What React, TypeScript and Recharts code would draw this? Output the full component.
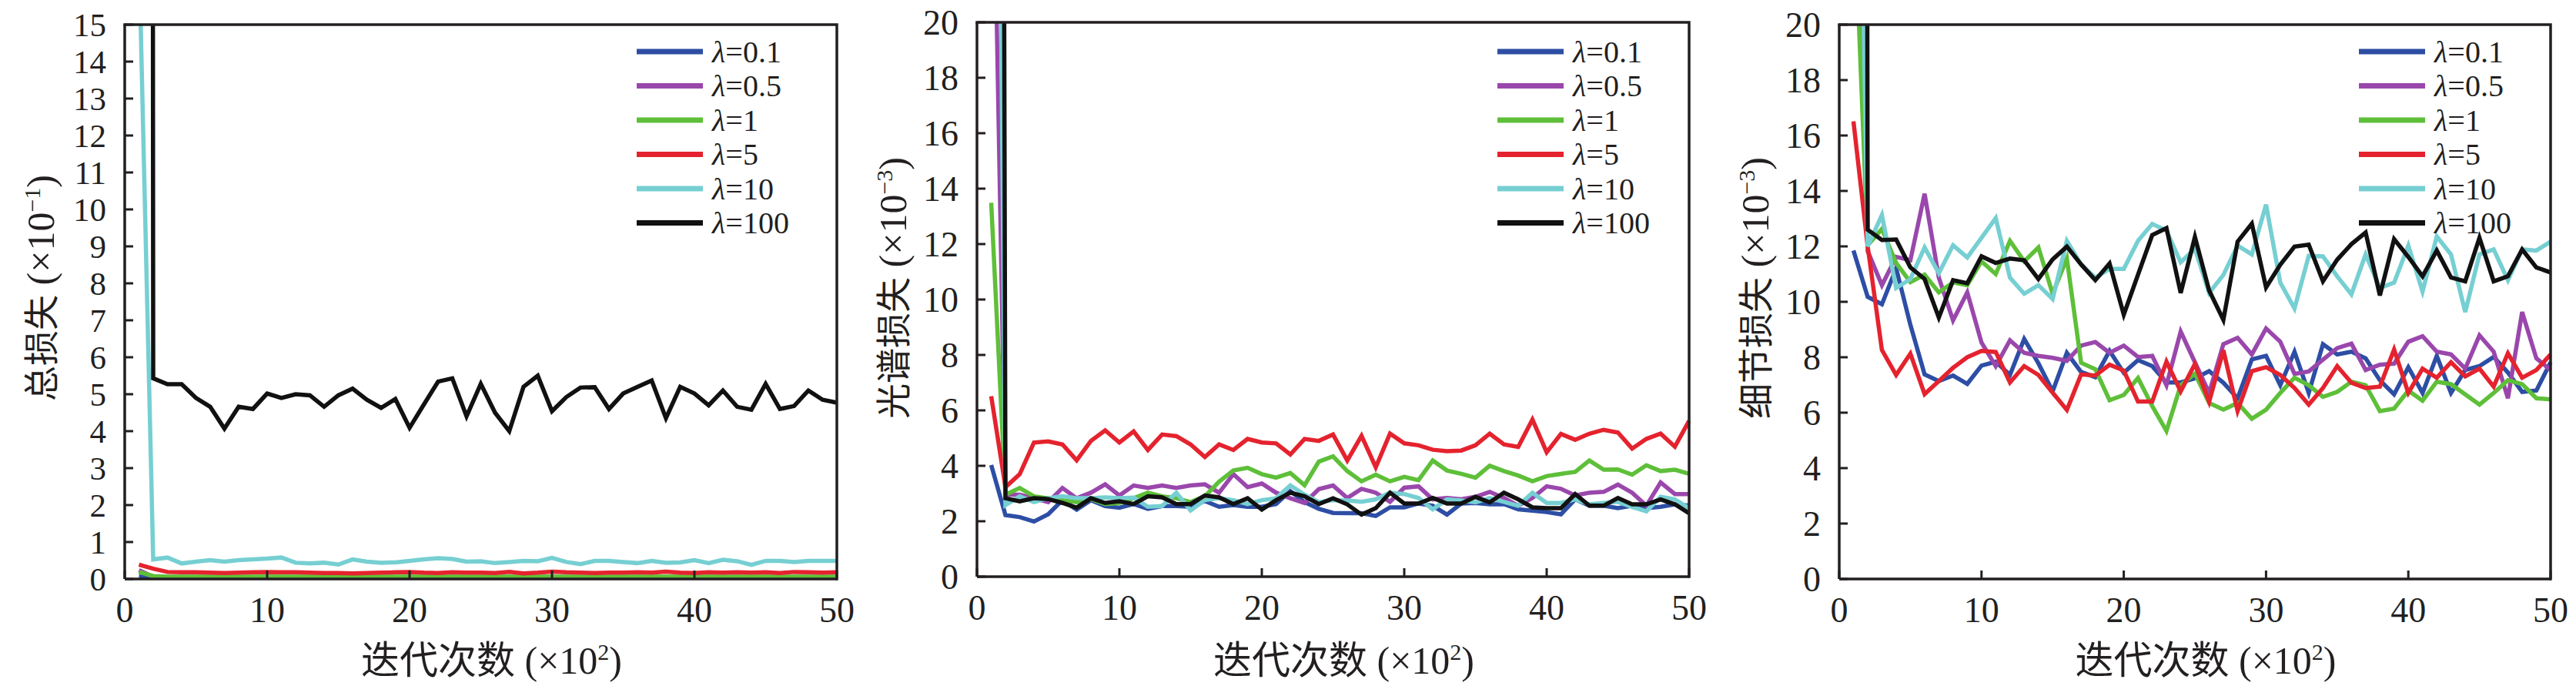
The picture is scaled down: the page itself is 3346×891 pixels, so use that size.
import { LineChart, Line, XAxis, YAxis, Legend } from 'recharts'

// iteration index (×10²)
const steps = [
  1, 2, 3, 4, 5, 6, 7, 8, 9, 10, 11, 12, 13, 14, 15, 16, 17, 18, 19, 20, 21, 22, 23, 24, 25,
  26, 27, 28, 29, 30, 31, 32, 33, 34, 35, 36, 37, 38, 39, 40, 41, 42, 43, 44, 45, 46, 47, 48, 49, 50,
]
const xTicks = [0, 10, 20, 30, 40, 50]
const lambdas = ['0.1', '0.5', '1', '5', '10', '100']

// 总损失 (×10^-1)
const total01 = [
  0.07, 0.03, 0.02, 0.02, 0.02, 0.02, 0.02, 0.02, 0.02, 0.02, 0.02, 0.02, 0.02, 0.02, 0.02, 0.02, 0.02, 0.02, 0.02, 0.02, 0.02, 0.02, 0.02, 0.02, 0.02,
  0.02, 0.02, 0.02, 0.02, 0.02, 0.02, 0.02, 0.02, 0.02, 0.02, 0.02, 0.02, 0.02, 0.02, 0.02, 0.02, 0.02, 0.02, 0.02, 0.02, 0.02, 0.02, 0.02, 0.02, 0.02,
]
const total05 = [
  0.24, 0.06, 0.05, 0.05, 0.05, 0.05, 0.05, 0.05, 0.05, 0.05, 0.05, 0.05, 0.05, 0.05, 0.05, 0.05, 0.05, 0.05, 0.05, 0.05, 0.05, 0.05, 0.05, 0.05, 0.05,
  0.05, 0.05, 0.05, 0.05, 0.05, 0.05, 0.05, 0.05, 0.05, 0.05, 0.05, 0.05, 0.05, 0.05, 0.05, 0.05, 0.05, 0.05, 0.05, 0.05, 0.05, 0.05, 0.05, 0.05, 0.05,
]
const total1 = [
  0.19, 0.08, 0.06, 0.06, 0.06, 0.06, 0.06, 0.06, 0.06, 0.06, 0.06, 0.06, 0.06, 0.06, 0.06, 0.06, 0.06, 0.06, 0.06, 0.06, 0.06, 0.06, 0.06, 0.06, 0.06,
  0.06, 0.06, 0.06, 0.06, 0.06, 0.06, 0.06, 0.06, 0.06, 0.06, 0.06, 0.06, 0.06, 0.06, 0.06, 0.06, 0.06, 0.06, 0.06, 0.06, 0.06, 0.06, 0.06, 0.06, 0.06,
]
const total5 = [
  0.39, 0.28, 0.19, 0.18, 0.18, 0.17, 0.16, 0.17, 0.18, 0.19, 0.18, 0.18, 0.17, 0.16, 0.16, 0.15, 0.16, 0.17, 0.18, 0.19, 0.17, 0.16, 0.18, 0.17, 0.17,
  0.16, 0.19, 0.15, 0.17, 0.2, 0.18, 0.17, 0.16, 0.17, 0.17, 0.18, 0.17, 0.2, 0.17, 0.16, 0.18, 0.17, 0.18, 0.17, 0.18, 0.16, 0.19, 0.18, 0.17, 0.18,
]
const total10 = [
  17, 0.53, 0.58, 0.42, 0.47, 0.51, 0.47, 0.51, 0.53, 0.55, 0.58, 0.44, 0.42, 0.44, 0.39, 0.53, 0.47, 0.44, 0.45, 0.49, 0.53, 0.56, 0.54, 0.47, 0.48,
  0.43, 0.46, 0.49, 0.48, 0.57, 0.46, 0.4, 0.49, 0.49, 0.46, 0.43, 0.49, 0.44, 0.45, 0.51, 0.43, 0.52, 0.48, 0.38, 0.49, 0.49, 0.46, 0.49, 0.49, 0.49,
]
const total100 = [
  500, 5.43, 5.27, 5.27, 4.9, 4.66, 4.07, 4.66, 4.6, 5.02, 4.9, 5.0, 4.97, 4.66, 4.97, 5.15, 4.85, 4.63, 4.87, 4.09, 4.72, 5.34, 5.43, 4.4, 5.28,
  4.5, 4.0, 5.2, 5.5, 4.54, 4.92, 5.18, 5.19, 4.6, 5.02, 5.2, 5.37, 4.35, 5.2, 5.02, 4.7, 5.1, 4.66, 4.58, 5.28, 4.6, 4.68, 5.1, 4.85, 4.77,
]

// 光谱损失 (×10^-3)
const spec01 = [
  4.03, 2.22, 2.15, 1.99, 2.25, 2.76, 2.42, 2.76, 2.55, 2.49, 2.62, 2.45, 2.55, 2.55, 2.52, 2.73, 2.52, 2.58, 2.52, 2.52, 2.62, 3.09, 2.69, 2.45, 2.3,
  2.29, 2.29, 2.19, 2.5, 2.5, 2.64, 2.56, 2.24, 2.64, 2.66, 2.61, 2.62, 2.43, 2.38, 2.33, 2.25, 2.79, 2.56, 2.56, 2.47, 2.56, 2.47, 2.52, 2.61, 2.56,
]
const spec05 = [
  31, 2.96, 2.96, 2.83, 2.69, 3.2, 2.83, 3.03, 3.33, 2.93, 3.29, 3.2, 3.29, 3.2, 3.29, 3.33, 3.03, 3.7, 3.23, 3.36, 3.03, 2.83, 2.66, 3.16, 3.29,
  2.84, 3.17, 3.03, 2.7, 3.21, 3.26, 2.79, 2.84, 2.79, 2.88, 3.06, 2.84, 2.56, 2.84, 3.26, 3.17, 2.93, 3.03, 3.06, 3.32, 3.03, 2.56, 3.4, 2.98, 2.98,
]
const spec1 = [
  13.49, 2.96, 3.2, 2.9, 2.83, 2.76, 2.69, 2.8, 2.62, 2.66, 2.83, 3.03, 2.9, 2.83, 2.69, 2.9, 3.43, 3.83, 3.93, 3.7, 3.57, 3.74, 3.3, 4.15, 4.34,
  3.81, 3.44, 3.68, 3.44, 3.6, 3.48, 4.19, 3.83, 3.71, 3.57, 4.0, 3.81, 3.65, 3.44, 3.63, 3.71, 3.78, 4.19, 3.86, 3.87, 3.68, 4.02, 3.81, 3.86, 3.71,
]
const spec5 = [
  6.51, 3.23, 3.7, 4.84, 4.88, 4.77, 4.2, 4.9, 5.28, 4.84, 5.24, 4.57, 5.13, 5.07, 4.77, 4.32, 4.77, 4.57, 4.97, 4.84, 4.81, 4.41, 4.97, 4.9, 5.13,
  4.19, 5.08, 3.95, 5.16, 4.81, 4.74, 4.58, 4.53, 4.55, 4.74, 5.16, 4.77, 4.68, 5.67, 4.49, 5.15, 4.94, 5.16, 5.3, 5.2, 4.62, 4.97, 5.16, 4.69, 5.62,
]
const spec10 = [
  60, 2.58, 2.9, 2.69, 2.83, 2.9, 2.83, 2.83, 2.86, 2.83, 2.85, 2.52, 2.55, 3.03, 2.39, 2.76, 2.83, 2.76, 2.62, 2.76, 2.83, 3.29, 2.96, 2.69, 2.76,
  2.75, 2.7, 2.79, 3.03, 2.98, 2.84, 2.43, 2.79, 2.75, 2.68, 2.84, 2.7, 2.56, 3.03, 2.66, 2.66, 2.79, 2.61, 2.66, 2.7, 2.52, 2.36, 2.88, 2.79, 2.47,
]
const spec100 = [
  200, 2.83, 2.72, 2.83, 2.8, 2.66, 2.49, 2.83, 2.66, 2.72, 2.62, 2.9, 2.86, 2.62, 2.62, 2.93, 2.86, 2.62, 2.83, 2.42, 2.76, 3.03, 2.9, 2.62, 2.83,
  2.61, 2.24, 2.47, 3.03, 2.64, 2.64, 2.84, 2.64, 2.64, 2.88, 2.68, 3.03, 2.79, 2.5, 2.47, 2.47, 2.98, 2.56, 2.56, 2.84, 2.61, 2.61, 2.79, 2.61, 2.29,
]

// 细节损失 (×10^-3)
const detail01 = [
  11.85, 10.18, 9.91, 11.21, 9.17, 7.38, 7.14, 7.34, 7.04, 7.7, 7.84, 7.36, 8.66, 7.78, 6.77, 8.16, 7.47, 7.28, 8.23, 7.44, 7.9, 7.68, 7.09, 7.09, 7.24,
  7.5, 7.08, 6.52, 7.92, 8.05, 6.99, 8.2, 6.71, 8.47, 8.1, 8.2, 7.96, 7.17, 6.66, 7.64, 6.71, 8.05, 6.71, 7.54, 7.68, 8.01, 7.45, 6.75, 6.8, 7.82,
]
const detail05 = [
  33, 11.83, 10.6, 11.62, 11.5, 13.9, 10.87, 9.33, 10.34, 8.53, 7.68, 8.61, 8.16, 8.05, 7.98, 7.87, 8.42, 8.55, 8.16, 8.42, 8.01, 8.05, 6.99, 8.93, 7.82,
  6.71, 8.47, 8.7, 8.1, 9.04, 8.56, 7.4, 7.49, 7.91, 8.33, 8.49, 7.54, 7.73, 7.77, 8.56, 8.76, 8.2, 8.1, 7.59, 8.79, 8.2, 6.52, 9.63, 7.96, 7.54,
]
const detail1 = [
  25, 12.04, 12.63, 11.4, 10.71, 10.98, 10.34, 10.7, 10.6, 11.46, 11.0, 12.2, 11.46, 11.96, 10.29, 11.56, 7.8, 7.57, 6.45, 6.64, 7.25, 6.24, 5.34, 6.99, 7.41,
  6.35, 6.11, 6.35, 5.78, 6.11, 6.71, 7.26, 6.99, 6.57, 6.75, 7.12, 6.99, 6.06, 6.15, 6.8, 6.43, 7.12, 7.03, 6.66, 6.29, 6.71, 7.17, 7.03, 6.52, 6.48,
]
const detail5 = [
  16.51, 12.0, 8.26, 7.36, 8.13, 6.67, 7.14, 7.62, 8.0, 8.23, 8.19, 7.09, 7.68, 7.36, 6.72, 6.1, 7.38, 7.34, 7.73, 7.52, 6.4, 6.4, 7.84, 6.77, 7.76,
  6.39, 8.25, 6.06, 7.5, 7.64, 7.36, 6.89, 6.29, 6.89, 7.68, 7.08, 6.89, 6.94, 8.28, 6.71, 7.59, 7.26, 7.82, 7.31, 7.59, 6.94, 8.14, 7.26, 7.54, 8.1,
]
const detail10 = [
  40, 12.0, 13.13, 10.5, 10.82, 11.96, 11.03, 12.04, 11.6, 12.31, 13.02, 10.87, 10.29, 10.6, 10.1, 12.2, 11.35, 10.87, 11.19, 11.19, 12.2, 12.81, 12.57, 11.43, 11.91,
  10.32, 10.97, 12.03, 11.71, 13.51, 10.69, 9.76, 11.66, 11.64, 10.92, 10.27, 11.71, 10.5, 10.69, 12.03, 10.37, 12.36, 11.71, 9.63, 11.71, 11.89, 10.78, 11.89, 11.85, 12.17,
]
const detail100 = [
  300, 12.6, 12.23, 12.25, 11.24, 10.82, 9.43, 10.78, 10.67, 11.64, 11.4, 11.56, 11.5, 10.82, 11.53, 11.99, 11.35, 10.78, 11.38, 9.54, 10.98, 12.41, 12.66, 10.32, 12.34,
  10.41, 9.35, 12.17, 12.82, 10.52, 11.34, 11.99, 12.06, 10.74, 11.52, 12.08, 12.5, 10.23, 12.26, 11.62, 10.92, 11.85, 10.88, 10.74, 12.31, 10.74, 10.92, 11.89, 11.24, 11.06,
]

const colors = ['#2d4ea4', '#9a47ac', '#5ebf39', '#e4232e', '#76cfd2', '#111111']
const FONT = "'Liberation Serif', 'Times New Roman', 'Noto Sans CJK SC', serif"
const INK = '#231f20'
const AXIS_W = 3.5

function toRows(series: number[][]) {
  return steps.map((s, i) => {
    const row: Record<string, number> = { step: s }
    series.forEach((arr, k) => {
      row[`s${k}`] = arr[i]
    })
    return row
  })
}

// keep legend rows in λ order (Recharts sorts them by name otherwise)
function LegendBox({ payload }: any) {
  const items = [...(payload || [])].sort(
    (a: any, b: any) => lambdas.indexOf(String(a.value).slice(2)) - lambdas.indexOf(String(b.value).slice(2)),
  )
  return (
    <svg width={290} height={260} style={{ overflow: 'visible', display: 'block' }}>
      {items.map((p: any, i: number) => {
        const cy = 22 + i * 44.5
        return (
          <g key={p.value}>
            <line x1={0} x2={86} y1={cy} y2={cy} stroke={p.color} strokeWidth={7} />
            <text
              x={98}
              y={cy}
              dy="0.34em"
              fontSize={40}
              fontFamily={FONT}
              style={{ fontFamily: FONT }}
              fill={INK}
            >
              <tspan fontStyle="italic">λ</tspan>
              {String(p.value).slice(1)}
            </text>
          </g>
        )
      })}
    </svg>
  )
}

interface PanelProps {
  left: number
  width: number
  plotLeft: number
  plotRight: number
  top: number
  bottom: number
  yMax: number
  yTicks: number[]
  yTickSize: number
  title: string
  exponent: string
  legendLeft: number
  series: number[][]
}

function Panel(p: PanelProps) {
  const data = toRows(p.series)
  const h = 891
  const midX = (p.plotLeft + p.plotRight) / 2 + 14
  const yLabelX = p.plotLeft - 110

  const xTick = (props: any) => (
    <g>
      <line x1={props.x} x2={props.x} y1={p.bottom} y2={p.bottom - 11} stroke={INK} strokeWidth={3} />
      <text
        x={props.x}
        y={p.bottom + 56}
        textAnchor="middle"
        fontSize={46}
        fontFamily={FONT}
        style={{ fontFamily: FONT }}
        fill={INK}
      >
        {props.payload.value}
      </text>
    </g>
  )
  const yTick = (props: any) => (
    <g>
      <line x1={p.plotLeft} x2={p.plotLeft + 11} y1={props.y} y2={props.y} stroke={INK} strokeWidth={3} />
      <text
        x={p.plotLeft - 24}
        y={props.y}
        dy="0.34em"
        textAnchor="end"
        fontSize={p.yTickSize}
        fontFamily={FONT}
        style={{ fontFamily: FONT }}
        fill={INK}
      >
        {props.payload.value}
      </text>
    </g>
  )
  const yTitle = () => (
    <text
      x={yLabelX}
      y={374}
      transform={`rotate(-90, ${yLabelX}, 374)`}
      textAnchor="middle"
      dy="0.35em"
      fontSize={50}
      fontFamily={FONT}
      style={{ fontFamily: FONT }}
      fill={INK}
    >
      <tspan fontSize={46}>{p.title}</tspan> (×10
      <tspan dy={-18} fontSize={30}>
        −{p.exponent}
      </tspan>
      <tspan dy={18}>)</tspan>
    </text>
  )
  const xTitle = () => (
    <text
      x={midX}
      y={875}
      textAnchor="middle"
      fontSize={50}
      fontFamily={FONT}
      style={{ fontFamily: FONT }}
      fill={INK}
    >
      迭代次数 (×10
      <tspan dy={-18} fontSize={30}>
        2
      </tspan>
      <tspan dy={18}>)</tspan>
    </text>
  )

  return (
    <div style={{ position: 'absolute', left: p.left, top: 0, width: p.width, height: h }}>
      <LineChart
        width={p.width}
        height={h}
        data={data}
        margin={{ top: p.top, right: p.width - p.plotRight, bottom: 0, left: 0 }}
        style={{ overflow: 'visible' }}
      >
        <XAxis
          dataKey="step"
          type="number"
          domain={[0, 50]}
          ticks={xTicks}
          interval={0}
          height={h - p.bottom}
          tickSize={0}
          tickLine={false}
          tick={xTick}
          axisLine={{ stroke: INK, strokeWidth: AXIS_W }}
          label={xTitle}
        />
        <YAxis
          type="number"
          domain={[0, p.yMax]}
          ticks={p.yTicks}
          interval={0}
          allowDataOverflow
          width={p.plotLeft}
          tickSize={0}
          tickLine={false}
          tick={yTick}
          axisLine={{ stroke: INK, strokeWidth: AXIS_W }}
          label={yTitle}
        />
        <Legend
          layout="vertical"
          align="center"
          verticalAlign="middle"
          content={LegendBox}
          wrapperStyle={{ left: p.legendLeft, top: 45, width: 290, height: 260 }}
        />
        {lambdas.map((lam, k) => (
          <Line
            key={lam}
            type="linear"
            dataKey={`s${k}`}
            name={`λ=${lam}`}
            stroke={colors[k]}
            strokeWidth={5.5}
            dot={false}
            activeDot={false}
            isAnimationActive={false}
          />
        ))}
      </LineChart>
      {/* top and right edges of the plot frame */}
      <svg
        width={p.width}
        height={h}
        style={{ position: 'absolute', left: 0, top: 0, zIndex: 5, pointerEvents: 'none', overflow: 'visible' }}
      >
        <polyline
          points={`${p.plotLeft},${p.top} ${p.plotRight},${p.top} ${p.plotRight},${p.bottom}`}
          fill="none"
          stroke={INK}
          strokeWidth={AXIS_W}
          strokeLinecap="square"
        />
      </svg>
    </div>
  )
}

export default function App() {
  return (
    <div style={{ position: 'absolute', left: 0, top: 0, width: 3346, height: 891, background: '#fff' }}>
      <Panel
        left={0}
        width={1110}
        plotLeft={162}
        plotRight={1087}
        top={32}
        bottom={752}
        yMax={15}
        yTicks={[0, 1, 2, 3, 4, 5, 6, 7, 8, 9, 10, 11, 12, 13, 14, 15]}
        yTickSize={43}
        title="总损失"
        exponent="1"
        legendLeft={827}
        series={[total01, total05, total1, total5, total10, total100]}
      />
      <Panel
        left={1110}
        width={1110}
        plotLeft={159}
        plotRight={1084}
        top={29}
        bottom={749}
        yMax={20}
        yTicks={[0, 2, 4, 6, 8, 10, 12, 14, 16, 18, 20]}
        yTickSize={46}
        title="光谱损失"
        exponent="3"
        legendLeft={835}
        series={[spec01, spec05, spec1, spec5, spec10, spec100]}
      />
      <Panel
        left={2220}
        width={1126}
        plotLeft={169}
        plotRight={1093}
        top={32}
        bottom={752}
        yMax={20}
        yTicks={[0, 2, 4, 6, 8, 10, 12, 14, 16, 18, 20]}
        yTickSize={46}
        title="细节损失"
        exponent="3"
        legendLeft={844}
        series={[detail01, detail05, detail1, detail5, detail10, detail100]}
      />
    </div>
  )
}
